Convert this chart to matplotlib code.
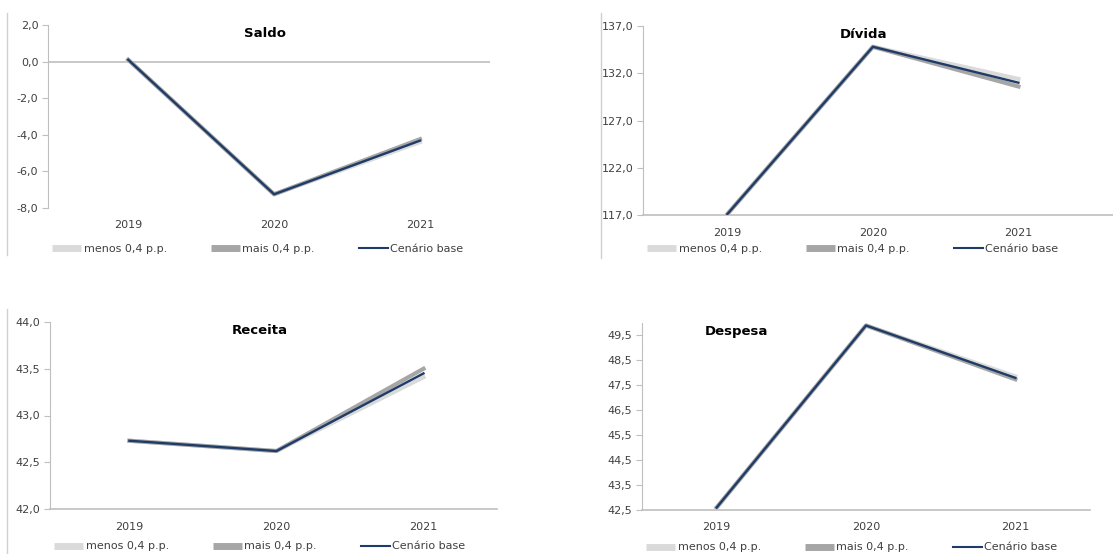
import matplotlib.pyplot as plt
from matplotlib.lines import Line2D

anos = ['2019', '2020', '2021']

saldo_base = [0.1, -7.25, -4.32]
saldo_menos = [0.1, -7.25, -4.40]
saldo_mais = [0.1, -7.25, -4.24]

divida_base = [117.1, 134.8, 131.0]
divida_menos = [117.1, 134.8, 131.4]
divida_mais = [117.1, 134.8, 130.6]

receita_base = [42.73, 42.62, 43.45]
receita_menos = [42.73, 42.62, 43.41]
receita_mais = [42.73, 42.62, 43.50]

despesa_base = [42.6, 49.9, 47.8]
despesa_menos = [42.6, 49.9, 47.86]
despesa_mais = [42.6, 49.9, 47.74]

W, H = 1113, 554
AZUL = '#1f3c68'
CINZA_CLARO = '#dadada'
CINZA_ESCURO = '#a6a6a6'
EIXO = '#bfbfbf'
TEXTO = '#404040'

fig = plt.figure(figsize=(W / 100, H / 100), dpi=100)


def caixa(x0, x1, y0, y1):
    # coordenadas em pixeis (origem em cima) -> fracao da figura
    return [x0 / W, 1 - y1 / H, (x1 - x0) / W, (y1 - y0) / H]


def painel(pos, titulo, tx, base, menos, mais, ylim, yticks, xlim, leg_y, zero=False):
    ax = fig.add_axes(caixa(*pos))
    x = range(len(anos))
    ax.plot(x, menos, color=CINZA_CLARO, lw=3, zorder=2)
    ax.plot(x, mais, color=CINZA_ESCURO, lw=3, zorder=2)
    ax.plot(x, base, color=AZUL, lw=1.7, zorder=3)
    ax.set_ylim(*ylim)
    ax.set_xlim(*xlim)
    ax.set_yticks(yticks)
    ax.set_yticklabels(['{:.1f}'.format(v).replace('.', ',') for v in yticks])
    ax.set_xticks(list(x))
    ax.set_xticklabels(anos)
    for s in ['top', 'right']:
        ax.spines[s].set_visible(False)
    ax.spines['left'].set_color(EIXO)
    ax.spines['bottom'].set_color(EIXO)
    ax.spines['bottom'].set_linewidth(1.2)
    if zero:
        ax.spines['bottom'].set_visible(False)
        ax.axhline(0, color=EIXO, lw=1.2, zorder=1)
    ax.tick_params(axis='y', length=4, color=EIXO, labelsize=8, labelcolor=TEXTO, pad=3)
    ax.tick_params(axis='x', length=0, labelsize=8, labelcolor=TEXTO, pad=9)
    ax.text(tx, 0.955, titulo, transform=ax.transAxes, ha='center', va='center',
            fontsize=9.5, fontweight='bold', color='black')
    handles = [Line2D([], [], color=CINZA_CLARO, lw=5, solid_capstyle='butt'),
               Line2D([], [], color=CINZA_ESCURO, lw=5, solid_capstyle='butt'),
               Line2D([], [], color=AZUL, lw=1.5)]
    ax.legend(handles, ['menos 0,4 p.p.', 'mais 0,4 p.p.', 'Cenário base'],
              loc='upper left', bbox_to_anchor=(0.0, leg_y), ncol=3, frameon=False,
              fontsize=8, handlelength=2.6, handletextpad=0.2, columnspacing=4.0,
              labelcolor=TEXTO, borderaxespad=0)
    return ax


painel((48, 490, 25, 208), 'Saldo', 0.49, saldo_base, saldo_menos, saldo_mais,
       (-8, 2), [-8, -6, -4, -2, 0, 2], (-0.55, 2.48), -0.17, zero=True)
painel((643, 1113, 26, 215), 'Dívida', 0.47, divida_base, divida_menos, divida_mais,
       (117, 137), [117, 122, 127, 132, 137], (-0.58, 2.65), -0.13)
painel((50, 497, 322, 509), 'Receita', 0.47, receita_base, receita_menos, receita_mais,
       (42, 44), [42.0, 42.5, 43.0, 43.5, 44.0], (-0.54, 2.5), -0.15)
painel((642, 1090, 323, 510), 'Despesa', 0.21, despesa_base, despesa_menos, despesa_mais,
       (42.5, 50.0), [42.5, 43.5, 44.5, 45.5, 46.5, 47.5, 48.5, 49.5], (-0.5, 2.5), -0.15)

# linhas de limite dos graficos
for x0, y0, y1 in [(7, 13, 255), (601, 13, 258), (7, 309, 554)]:
    fig.add_artist(Line2D([x0 / W, x0 / W], [1 - y0 / H, 1 - y1 / H], color='#d0d0d0', lw=1))

fig.savefig('out.png', dpi=100)
